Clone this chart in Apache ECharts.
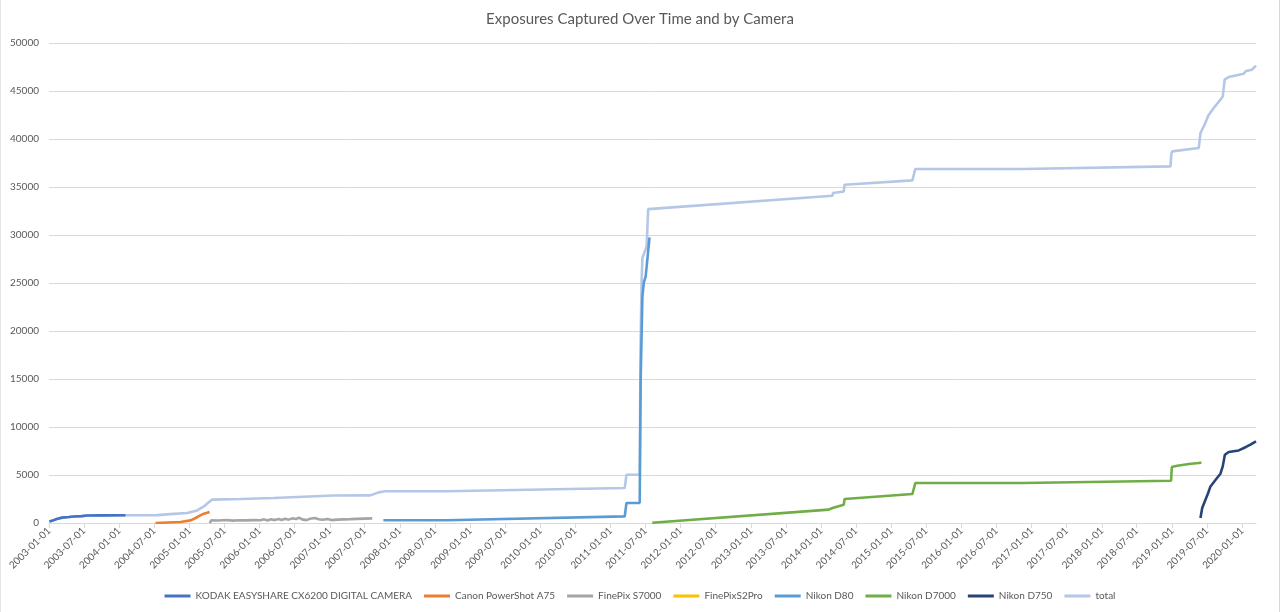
<!DOCTYPE html>
<html>
<head>
<meta charset="utf-8">
<script src="https://cdn.jsdelivr.net/npm/echarts@6/dist/echarts.min.js"></script>
<style>
html,body{margin:0;padding:0;background:#fff;}
#chart{width:1280px;height:612px;box-sizing:border-box;border-right:1px solid #d9d9d9;border-left:1px solid #e6e6e6;}
</style>
</head>
<body>
<div id="chart"></div>
<script>
const title = 'Exposures Captured Over Time and by Camera';
const seriesNames = ['KODAK EASYSHARE CX6200 DIGITAL CAMERA','Canon PowerShot A75','FinePix S7000','FinePixS2Pro','Nikon D80','Nikon D7000','Nikon D750','total'];
const seriesColors = ['#4472C4','#ED7D31','#A5A5A5','#FFC000','#5B9BD5','#70AD47','#264478','#B4C7E7'];

const tickLabels = ['2003-01-01','2003-07-01','2004-01-01','2004-07-01','2005-01-01','2005-07-01','2006-01-01','2006-07-01','2007-01-01','2007-07-01','2008-01-01','2008-07-01','2009-01-01','2009-07-01','2010-01-01','2010-07-01','2011-01-01','2011-07-01','2012-01-01','2012-07-01','2013-01-01','2013-07-01','2014-01-01','2014-07-01','2015-01-01','2015-07-01','2016-01-01','2016-07-01','2017-01-01','2017-07-01','2018-01-01','2018-07-01','2019-01-01','2019-07-01','2020-01-01'];
const xMin = '2003-01-01';
const xMax = '2020-03-13';

const kodak = [['2003-01-03',150],['2003-01-20',250],['2003-02-10',420],['2003-03-10',560],['2003-04-15',620],['2003-05-10',680],['2003-06-20',720],['2003-07-20',780],['2003-10-01',790],['2004-02-03',800]];
const canon = [['2004-07-08',0],['2004-11-15',100],['2005-01-07',270],['2005-02-02',520],['2005-02-24',760],['2005-03-17',970],['2005-04-16',1150]];
const finepixS7000 = [['2005-04-16',0],['2005-04-25',280],['2005-06-01',260],['2005-07-10',310],['2005-08-15',250],['2005-09-20',290],['2005-10-25',270],['2005-12-01',300],['2006-01-05',280],['2006-01-25',380],['2006-02-10',260],['2006-03-01',400],['2006-03-20',300],['2006-04-10',420],['2006-04-25',310],['2006-05-15',450],['2006-06-01',350],['2006-06-20',480],['2006-07-10',420],['2006-07-25',560],['2006-08-10',380],['2006-09-01',300],['2006-09-20',440],['2006-10-15',520],['2006-11-05',400],['2006-11-25',330],['2006-12-20',420],['2007-01-10',300],['2007-02-10',350],['2007-03-15',380],['2007-04-20',400],['2007-05-25',430],['2007-07-01',460],['2007-08-10',480]];
const finepixS2Pro = [];
const nikonD80 = [['2007-10-07',280],['2008-09-01',280],['2008-09-05',450],['2011-03-16',690],['2011-03-25',2080],['2011-06-02',2100],['2011-06-07',15000],['2011-06-16',23600],['2011-06-23',25000],['2011-07-03',25700],['2011-07-08',25900],['2011-07-23',29750]];
const nikonD7000 = [['2011-08-06',30],['2014-02-10',1390],['2014-03-01',1560],['2014-04-29',1910],['2014-05-03',2500],['2015-04-21',3020],['2015-05-06',4170],['2016-11-16',4170],['2016-11-20',4300],['2018-12-27',4400],['2018-12-31',5830],['2019-01-28',5970],['2019-03-30',6150],['2019-05-20',6250],['2019-06-03',6310]];
const nikonD750 = [['2019-05-29',520],['2019-06-07',1560],['2019-06-24',2430],['2019-07-08',3125],['2019-07-20',3810],['2019-08-16',4510],['2019-09-10',5135],['2019-09-22',5900],['2019-10-03',7115],['2019-10-23',7400],['2019-12-14',7560],['2020-01-21',7920],['2020-02-13',8160],['2020-03-13',8500]];
const total = [['2003-01-03',150],['2003-01-20',250],['2003-02-10',420],['2003-03-10',560],['2003-04-15',620],['2003-05-10',680],['2003-06-20',720],['2003-07-20',780],['2003-10-01',790],['2004-02-03',800],['2004-07-17',820],['2004-09-24',920],['2004-12-20',1040],['2005-02-10',1310],['2005-03-17',1730],['2005-04-11',2150],['2005-04-28',2430],['2005-09-23',2500],['2006-03-14',2600],['2007-01-21',2870],['2007-07-31',2880],['2007-09-12',3190],['2007-10-17',3300],['2008-09-01',3310],['2008-09-05',3480],['2011-03-16',3650],['2011-03-25',5030],['2011-06-02',5050],['2011-06-06',18000],['2011-06-12',25300],['2011-06-16',27600],['2011-07-08',28800],['2011-07-16',32700],['2014-03-01',34090],['2014-03-04',34370],['2014-04-29',34540],['2014-05-03',35240],['2015-04-21',35690],['2015-05-06',36870],['2016-11-16',36880],['2016-11-20',37080],['2018-12-24',37150],['2018-12-28',38370],['2019-01-02',38710],['2019-05-20',39060],['2019-05-29',40620],['2019-06-15',41310],['2019-07-02',42080],['2019-07-08',42430],['2019-08-06',43230],['2019-09-10',44100],['2019-09-22',44440],['2019-10-02',46180],['2019-10-23',46460],['2020-01-09',46800],['2020-01-21',47080],['2020-02-21',47220],['2020-03-13',47640]];

const yMin = 0, yMax = 50000, yStep = 5000;

const allData = [kodak, canon, finepixS7000, finepixS2Pro, nikonD80, nikonD7000, nikonD750, total];
const FONT = 'Lato, "Open Sans", sans-serif';
const toPts = arr => arr.map(([d, v]) => [Date.parse(d), v]);
const tickValues = tickLabels.map(d => Date.parse(d));

const chart = echarts.init(document.getElementById('chart'), null, {renderer: 'canvas'});
chart.setOption({
  animation: false,
  backgroundColor: '#ffffff',
  title: {
    text: title, left: 'center', top: 7,
    textStyle: {fontFamily: FONT, fontSize: 15, fontWeight: 'normal', color: '#595959'}
  },
  legend: {
    data: seriesNames, top: 586, left: 'center',
    icon: 'rect', itemWidth: 26, itemHeight: 3, itemGap: 12,
    textStyle: {fontFamily: FONT, fontSize: 10, color: '#595959'}
  },
  grid: {left: 48, right: 23, top: 43, bottom: 89, containLabel: false},
  xAxis: {
    type: 'value',
    min: Date.parse(xMin), max: Date.parse(xMax),
    axisLine: {show: true, lineStyle: {color: '#d9d9d9', width: 1}},
    axisTick: {show: true, length: 5, lineStyle: {color: '#d9d9d9'}, customValues: tickValues},
    axisLabel: {
      customValues: tickValues,
      rotate: 45, margin: 6, fontFamily: FONT, fontSize: 10, color: '#595959',
      formatter: v => new Date(v).toISOString().slice(0, 10)
    },
    splitLine: {show: false}
  },
  yAxis: {
    type: 'value', min: yMin, max: yMax, interval: yStep,
    axisLine: {show: false}, axisTick: {show: false},
    axisLabel: {fontFamily: FONT, fontSize: 10, color: '#595959', margin: 10, formatter: v => String(v)},
    splitLine: {lineStyle: {color: '#d9d9d9', width: 1}}
  },
  series: seriesNames.map((name, i) => ({
    name, type: 'line', data: toPts(allData[i]),
    color: seriesColors[i],
    showSymbol: false, symbol: 'none',
    lineStyle: {width: 2.6, color: seriesColors[i]},
    z: name === 'total' ? 1 : 3
  }))
});
</script>
</body>
</html>
